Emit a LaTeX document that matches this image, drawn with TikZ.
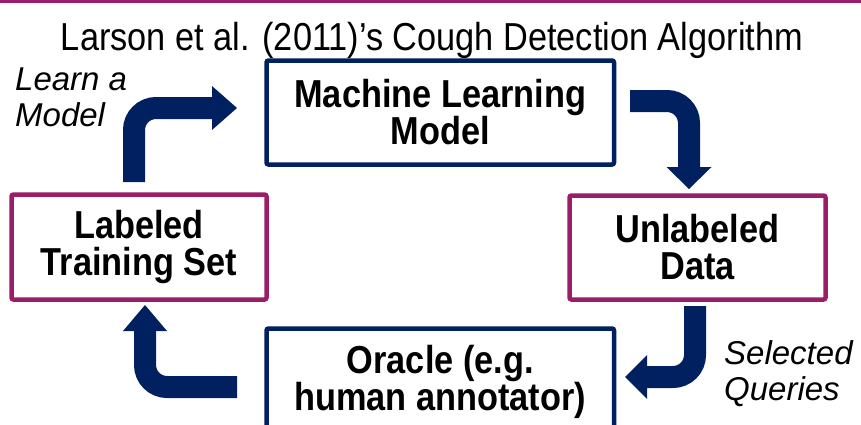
\documentclass[tikz,border=0pt]{standalone}
\usepackage{fontspec}
\setmainfont{Liberation Sans}
\newfontfamily\narrowsans{Liberation Sans}[FakeStretch=0.88]
\definecolor{navy}{RGB}{0,32,96}
\definecolor{plum}{RGB}{155,28,105}
\begin{document}
\begin{tikzpicture}[x=1pt,y=-1pt,
  box/.style={draw, line width=4.5pt, rounded corners=2pt, inner sep=0pt,
    align=center, font=\narrowsans\bfseries\fontsize{39}{37}\selectfont},
  modelbox/.style={box, draw=navy},
  databox/.style={box, draw=plum},
  shaft/.style={navy, line width=22pt, rounded corners=22pt},
  tip/.style={fill=navy},
  note/.style={font=\itshape\fontsize{33}{36}\selectfont, align=left,
    inner sep=0pt, anchor=north west}]
\useasboundingbox (0,0) rectangle (861,424);
\clip (0,0) rectangle (861,424);

% top rule
\draw[plum, line width=3pt] (0,1) -- (861,1);

% title
\node[font=\narrowsans\fontsize{39}{39}\selectfont, anchor=base, inner sep=0pt]
  (title) at (432,50) {Larson et al. (2011)’s Cough Detection Algorithm};

% the four stages of the loop
\node[modelbox, minimum width=347.5pt, minimum height=104pt]
  (model) at (440.25,112.5) {Machine Learning\\Model};
\node[databox, minimum width=255pt, minimum height=105pt]
  (train) at (139,247) {Labeled\\Training Set};
\node[databox, minimum width=256pt, minimum height=104pt]
  (pool) at (697.5,247.5) {Unlabeled\\Data};
\node[modelbox, minimum width=347.5pt, minimum height=107pt]
  (oracle) at (440.25,382) {Oracle (e.g.\\human annotator)};

% step labels
\node[note] (learn) at (15,67.5) {Learn a\\Model};
\node[note] (queries) at (724,340) {Selected\\Queries};

% bent arrows between the stages
\coordinate (s1) at (134,182);  \coordinate (e1) at (214,108);
\coordinate (s2) at (630,101);  \coordinate (e2) at (689,169);
\coordinate (s3) at (695,306);  \coordinate (e3) at (645,377);
\coordinate (s4) at (237,387);  \coordinate (e4) at (145,329);

\draw[shaft] (s1) |- (e1);
\fill[tip] (212,86) -- (237,108) -- (212,130) -- cycle;

\draw[shaft] (s2) -| (e2);
\fill[tip] (666.5,167) -- (689,189) -- (711.5,167) -- cycle;

\draw[shaft] (s3) |- (e3);
\fill[tip] (647,355) -- (625,377) -- (647,399) -- cycle;

\draw[shaft] (s4) -| (e4);
\fill[tip] (123,331) -- (145,305) -- (167,331) -- cycle;
\end{tikzpicture}
\end{document}
